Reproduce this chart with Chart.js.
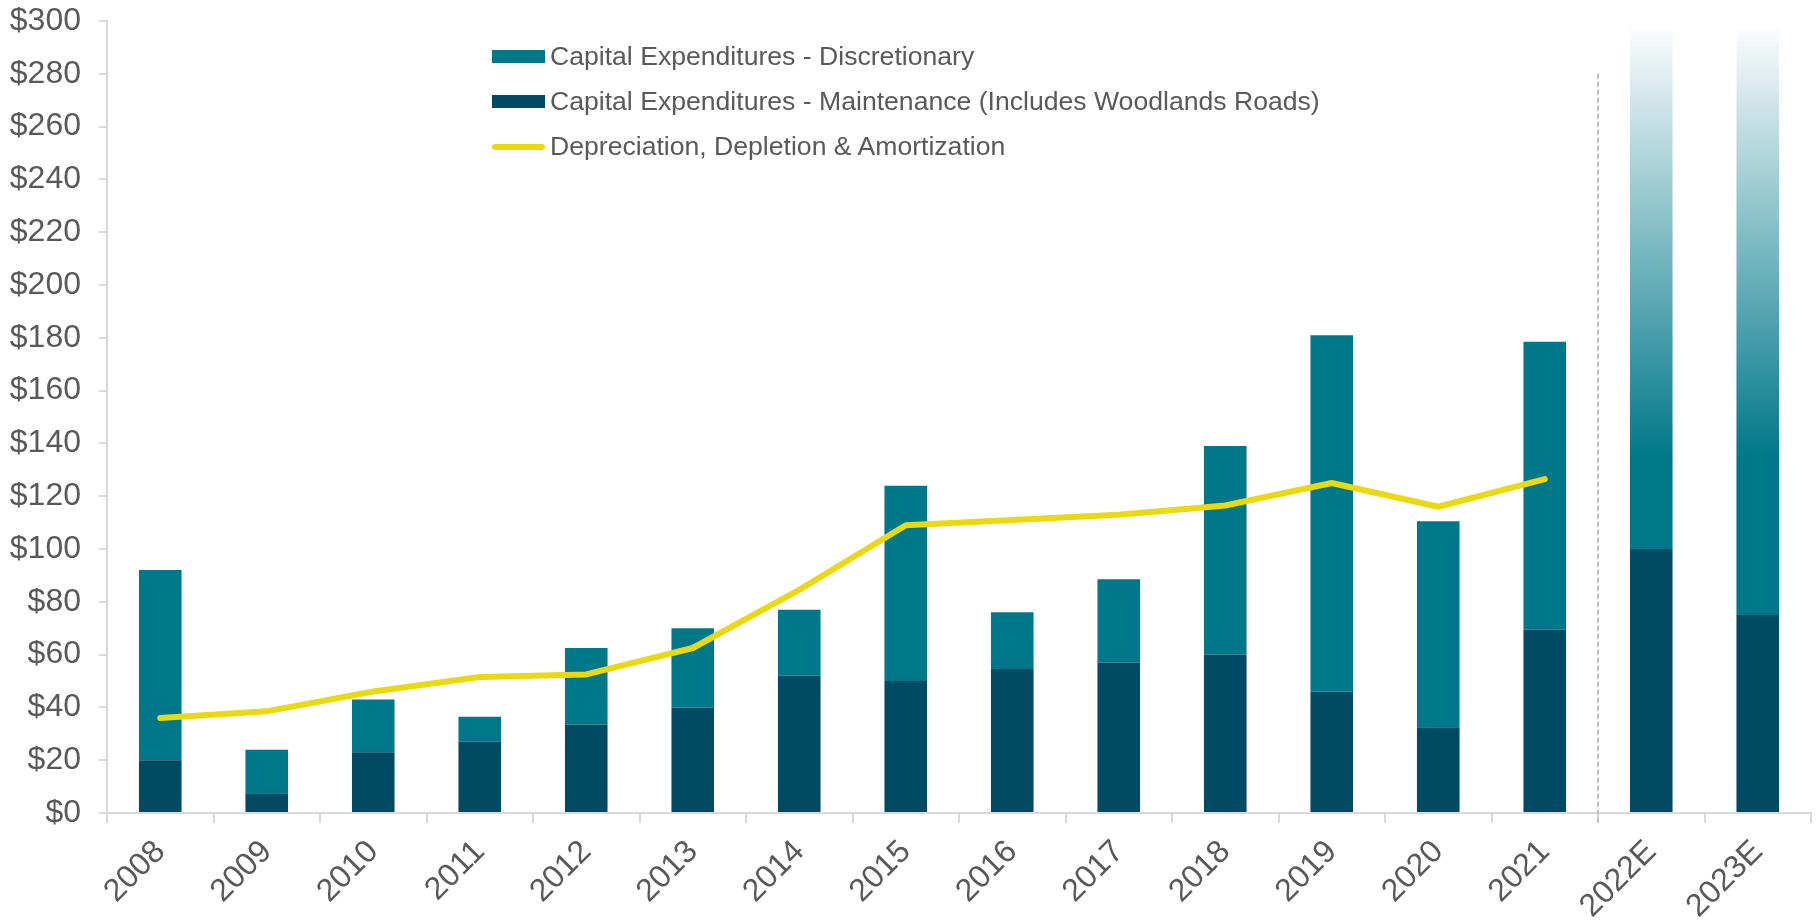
<!DOCTYPE html>
<html lang="en">
<head>
<meta charset="utf-8">
<title>Capital Expenditures vs. DD&amp;A</title>
<script src="https://cdn.jsdelivr.net/npm/chart.js@4.4.1/dist/chart.umd.min.js"></script>
<style>
    html, body { margin: 0; padding: 0; background: #ffffff; }
    .chart-wrap { position: relative; width: 1816px; height: 923px; }
    .chart-legend {
        position: absolute;
        left: 492px;
        top: 34px;
        font-family: "Liberation Sans", Arial, sans-serif;
        font-size: 26.6px;
        color: #595959;
    }
    .legend-item { display: flex; align-items: center; height: 45px; white-space: nowrap; }
    .legend-swatch { width: 53px; height: 13px; margin-right: 5px; flex: none; }
    .legend-line { height: 6px; border-radius: 3px; }
</style>
</head>
<body>
<div class="chart-wrap">
    <canvas id="capex-chart"></canvas>
    <div class="chart-legend" id="capex-legend"></div>
</div>
<script>
// Categories (fiscal years, last two are estimates)
const categories = ['2008', '2009', '2010', '2011', '2012', '2013', '2014', '2015',
    '2016', '2017', '2018', '2019', '2020', '2021', '2022E', '2023E'];

// $ millions
const maintenance = [20, 7.5, 23, 27, 33.5, 40, 52, 50, 54.5, 57, 60, 46, 32.5, 69.5, 100, 75];
const discretionary = [72, 16.5, 20, 9.5, 29, 30, 25, 74, 21.5, 31.5, 79, 135, 78, 109, 197, 222];
const dda = [36, 38.5, 46, 51.5, 52.5, 62.5, 84.5, 109, 111, 113, 116.5, 125, 116, 126.5, null, null];

// Y axis ticks
const yTickValues = [0, 20, 40, 60, 80, 100, 120, 140, 160, 180, 200, 220, 240, 260, 280, 300];

const FIRST_ESTIMATE = categories.indexOf('2022E');

const COLORS = {
    discretionary: '#00788a',
    maintenance: '#004b63',
    dda: '#ead910',
    axis: '#d9d9d9',
    text: '#595959',
    divider: '#bfbfbf'
};

const FONT = '"Liberation Sans", Arial, sans-serif';

/**
 * Estimate bars fade out towards the top (range of guidance)
 */
function discretionaryColor(context) {
    const chart = context.chart;
    const y = chart.scales && chart.scales.y;
    if (!chart.chartArea || !y || context.dataIndex === undefined || context.dataIndex < FIRST_ESTIMATE) {
        return COLORS.discretionary;
    }
    const gradient = chart.ctx.createLinearGradient(0, y.getPixelForValue(300), 0, y.getPixelForValue(135));
    gradient.addColorStop(0, 'rgba(0, 120, 138, 0)');
    gradient.addColorStop(1, 'rgba(0, 120, 138, 1)');
    return gradient;
}

// Dashed line separating actuals from estimates
const estimateDivider = {
    id: 'estimateDivider',
    afterDatasetsDraw(chart) {
        const { ctx, scales: { x, y } } = chart;
        const px = Math.round((x.getPixelForValue(FIRST_ESTIMATE - 1) + x.getPixelForValue(FIRST_ESTIMATE)) / 2);
        ctx.save();
        ctx.strokeStyle = COLORS.divider;
        ctx.lineWidth = 2;
        ctx.setLineDash([5, 3]);
        ctx.beginPath();
        ctx.moveTo(px, y.getPixelForValue(280));
        ctx.lineTo(px, y.bottom + 12);
        ctx.stroke();
        ctx.restore();
    }
};

function renderLegend() {
    const items = [
        { label: 'Capital Expenditures - Discretionary', color: COLORS.discretionary, line: false },
        { label: 'Capital Expenditures - Maintenance (Includes Woodlands Roads)', color: COLORS.maintenance, line: false },
        { label: 'Depreciation, Depletion & Amortization', color: COLORS.dda, line: true }
    ];
    document.getElementById('capex-legend').innerHTML = items.map(item => `
        <div class="legend-item">
            <span class="legend-swatch ${item.line ? 'legend-line' : ''}" style="background-color: ${item.color};"></span>
            <span>${item.label.replace('&', '&amp;')}</span>
        </div>
    `).join('');
}

function initChart() {
    const canvas = document.getElementById('capex-chart');
    const ctx = canvas.getContext('2d');

    return new Chart(ctx, {
        type: 'bar',
        data: {
            labels: categories,
            datasets: [
                {
                    type: 'line',
                    label: 'Depreciation, Depletion & Amortization',
                    data: dda,
                    stack: 'dda',
                    order: 0,
                    borderColor: COLORS.dda,
                    borderWidth: 6,
                    borderCapStyle: 'round',
                    borderJoinStyle: 'round',
                    pointRadius: 0,
                    tension: 0,
                    fill: false
                },
                {
                    label: 'Capital Expenditures - Maintenance (Includes Woodlands Roads)',
                    data: maintenance,
                    stack: 'capex',
                    order: 1,
                    backgroundColor: COLORS.maintenance,
                    barPercentage: 0.4,
                    categoryPercentage: 1
                },
                {
                    label: 'Capital Expenditures - Discretionary',
                    data: discretionary,
                    stack: 'capex',
                    order: 1,
                    backgroundColor: discretionaryColor,
                    barPercentage: 0.4,
                    categoryPercentage: 1
                }
            ]
        },
        options: {
            responsive: true,
            maintainAspectRatio: false,
            animation: false,
            layout: { padding: { top: 21, right: 5, bottom: 0, left: 0 } },
            plugins: {
                legend: { display: false },
                tooltip: { enabled: false }
            },
            scales: {
                x: {
                    stacked: true,
                    grid: {
                        offset: true,
                        drawOnChartArea: false,
                        drawTicks: true,
                        tickLength: 10,
                        color: COLORS.axis,
                        lineWidth: 2
                    },
                    border: { color: COLORS.axis, width: 2 },
                    ticks: {
                        color: COLORS.text,
                        font: { family: FONT, size: 32 },
                        maxRotation: 45,
                        minRotation: 45,
                        autoSkip: false,
                        padding: 10
                    },
                    afterFit(scale) {
                        scale.height = 110;
                        scale.paddingLeft = 0;
                        scale.paddingRight = 0;
                    }
                },
                y: {
                    stacked: true,
                    min: yTickValues[0],
                    max: yTickValues[yTickValues.length - 1],
                    afterBuildTicks(scale) {
                        scale.ticks = yTickValues.map(v => ({ value: v }));
                    },
                    grid: {
                        drawOnChartArea: false,
                        drawTicks: true,
                        tickLength: 8,
                        color: COLORS.axis,
                        lineWidth: 2
                    },
                    border: { color: COLORS.axis, width: 2 },
                    ticks: {
                        color: COLORS.text,
                        font: { family: FONT, size: 32 },
                        padding: 18,
                        callback: value => '$' + value
                    },
                    afterFit(scale) {
                        scale.width = 107;
                        scale.paddingTop = 0;
                        scale.paddingBottom = 0;
                    }
                }
            }
        },
        plugins: [estimateDivider]
    });
}

renderLegend();
initChart();
</script>
</body>
</html>
